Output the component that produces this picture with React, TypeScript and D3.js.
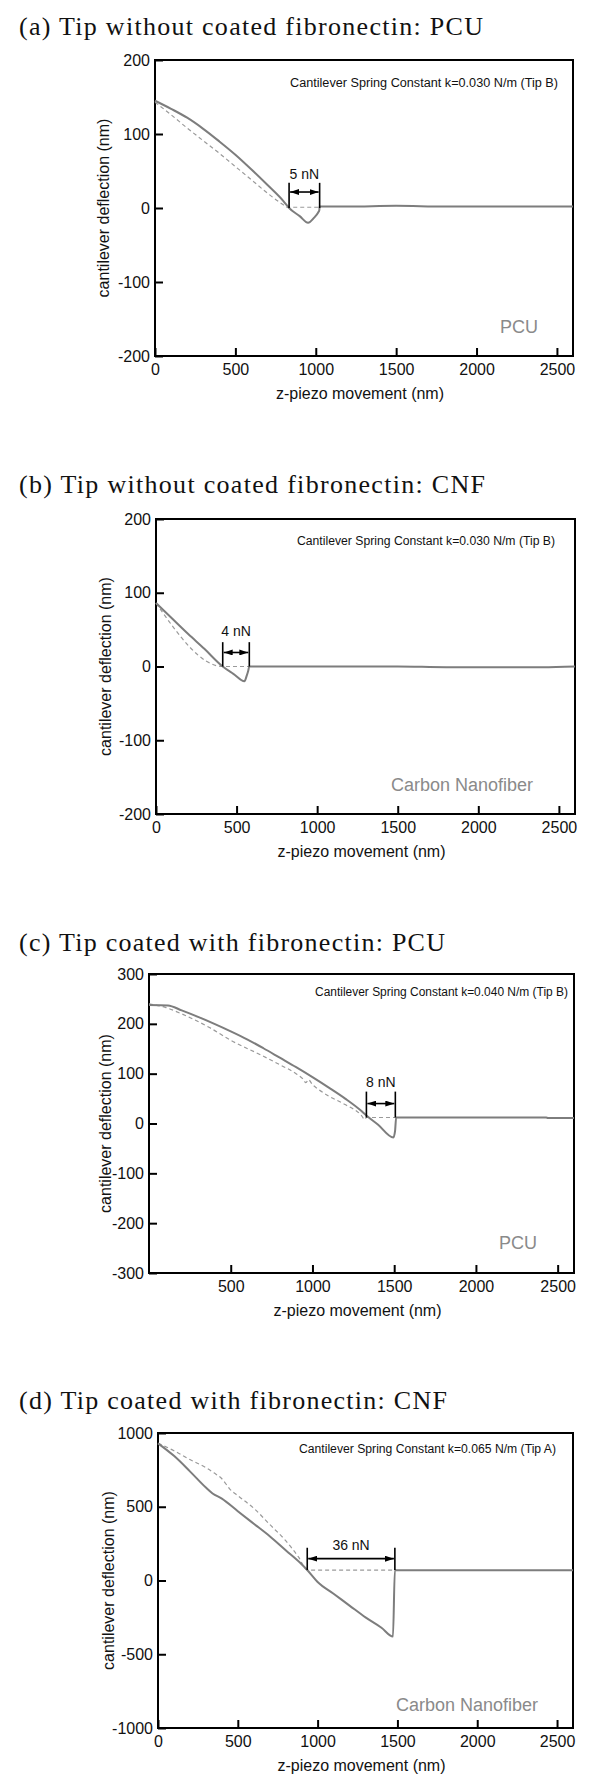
import React, { useRef, useEffect } from 'react'
import * as d3 from 'd3'

// panel texts
const titles = [
  '(a) Tip without coated fibronectin: PCU',
  '(b) Tip without coated fibronectin: CNF',
  '(c) Tip coated with fibronectin: PCU',
  '(d) Tip coated with fibronectin: CNF',
]
const springLabels = [
  'Cantilever Spring Constant k=0.030 N/m (Tip B)',
  'Cantilever Spring Constant k=0.030 N/m (Tip B)',
  'Cantilever Spring Constant k=0.040 N/m (Tip B)',
  'Cantilever Spring Constant k=0.065 N/m (Tip A)',
]
const surfaces = ['PCU', 'Carbon Nanofiber', 'PCU', 'Carbon Nanofiber']
const forces = ['5 nN', '4 nN', '8 nN', '36 nN']

// axes
const xDomain = [0, 2600]
const yDomains = [[-200, 200], [-200, 200], [-300, 300], [-1000, 1000]]
const xTicks = [
  [0, 500, 1000, 1500, 2000, 2500],
  [0, 500, 1000, 1500, 2000, 2500],
  [500, 1000, 1500, 2000, 2500],
  [0, 500, 1000, 1500, 2000, 2500],
]
const yTicks = [
  [-200, -100, 0, 100, 200],
  [-200, -100, 0, 100, 200],
  [-300, -200, -100, 0, 100, 200, 300],
  [-1000, -500, 0, 500, 1000],
]

// curves [z-piezo (nm), deflection (nm)]
const solidA = [[0, 145], [100, 134], [200, 122], [300, 107], [400, 90], [500, 72], [600, 52], [700, 31], [800, 9], [834, 0], [900, -11], [952, -20], [990, -13], [1015, -6], [1022, -3], [1024, 2], [1200, 2], [1500, 3], [1800, 2], [2100, 2], [2400, 2], [2600, 2]]
const dashedA = [[0, 143], [100, 126], [200, 108], [300, 91], [400, 74], [500, 56], [600, 38], [700, 20], [800, 4], [822, 1], [1024, 1]]

const solidB = [[0, 86], [100, 65], [200, 44], [300, 24], [414, 0], [480, -10], [549, -20], [562, -13], [572, -6], [579, 0], [800, 0], [1200, 0], [1500, 0], [1800, -1], [2100, -1], [2400, -1], [2600, 0]]
const dashedB = [[0, 86], [414, 0], [579, 0]]

const solidC = [[0, 238], [116, 237], [200, 227], [300, 214], [400, 200], [500, 185], [600, 169], [700, 151], [800, 132], [900, 113], [1000, 93], [1100, 72], [1200, 50], [1300, 25], [1330, 16], [1400, -2], [1495, -28], [1505, -16], [1512, 12], [1800, 12], [2100, 12], [2430, 12], [2440, 11], [2600, 11]]
const dashedC = [[0, 240], [100, 233], [200, 220], [373, 192], [500, 167], [700, 135], [800, 118], [900, 100], [940, 90], [960, 82], [975, 88], [1000, 78], [1030, 70], [1100, 55], [1200, 38], [1300, 16], [1320, 8], [1330, 12], [1507, 12]]

const solidD = [[0, 930], [100, 845], [200, 740], [300, 630], [342, 590], [400, 555], [500, 470], [600, 385], [700, 300], [800, 205], [900, 110], [935, 71], [1000, -10], [1100, -90], [1200, -170], [1300, -250], [1400, -320], [1472, -380], [1484, 70], [1800, 70], [2200, 70], [2600, 70]]
const dashedD = [[0, 930], [100, 880], [200, 820], [300, 765], [350, 730], [400, 690], [450, 620], [500, 575], [600, 490], [700, 380], [800, 270], [880, 160], [935, 71], [1484, 71]]

const solidSeries = [solidA, solidB, solidC, solidD]
const dashedSeries = [dashedA, dashedB, dashedC, dashedD]

// adhesion brackets (data units)
const bracketX0 = [834, 414, 1330, 935]
const bracketX1 = [1024, 579, 1507, 1484]
const bracketBase = [0, 0, 12, 71]
const bracketTop = [34, 33, 64, 222]
const arrowLevel = [21.6, 19, 40, 148]
const forceLabelLevel = [39, 42, 73, 207]

// page layout of each panel
const layout = [
  { left: 155, right: 573, top: 60, bottom: 356, titleY: 35, titleW: 464, springX: 558, springY: 87, springW: 268, surfX: 538, surfY: 333, yLabelX: 104 },
  { left: 156, right: 575, top: 519, bottom: 814, titleY: 493, titleW: 466, springX: 555, springY: 545, springW: 258, surfX: 533, surfY: 791, yLabelX: 106 },
  { left: 149, right: 574, top: 974, bottom: 1273, titleY: 951, titleW: 426, springX: 568, springY: 996, springW: 253, surfX: 537, surfY: 1249, yLabelX: 106 },
  { left: 158, right: 573, top: 1433, bottom: 1728, titleY: 1409, titleW: 428, springX: 556, springY: 1453, springW: 257, surfX: 538, surfY: 1711, yLabelX: 109 },
]

const sans = 'Liberation Sans, Arial, Helvetica, sans-serif'
const serif = 'Liberation Serif, Times New Roman, serif'

export default function App() {
  const svgRef = useRef(null)
  const width = 600
  const height = 1787

  useEffect(() => {
    const svg = d3.select(svgRef.current)
    svg.selectAll('*').remove()

    const defs = svg.append('defs')
    defs.append('marker')
      .attr('id', 'head')
      .attr('markerUnits', 'userSpaceOnUse')
      .attr('markerWidth', 9)
      .attr('markerHeight', 6)
      .attr('refX', 9)
      .attr('refY', 3)
      .attr('orient', 'auto-start-reverse')
      .append('path')
      .attr('d', 'M0,0 L9,3 L0,6 Z')
      .attr('fill', '#000')

    layout.forEach((L, i) => {
      const g = svg.append('g')
      const x = d3.scaleLinear().domain(xDomain).range([L.left, L.right])
      const y = d3.scaleLinear().domain(yDomains[i]).range([L.bottom, L.top])

      g.append('text')
        .attr('x', 19)
        .attr('y', L.titleY)
        .attr('font-family', serif)
        .attr('font-size', 26)
        .attr('textLength', L.titleW)
        .attr('lengthAdjust', 'spacing')
        .attr('fill', '#111')
        .text(titles[i])

      const xAxis = d3.axisBottom(x)
        .tickValues(xTicks[i])
        .tickSize(-8)
        .tickPadding(8)
        .tickFormat(d => String(d))
      const xAxisG = g.append('g')
        .attr('transform', `translate(0,${L.bottom})`)
        .call(xAxis)
      xAxisG.select('.domain').remove()

      const yAxis = d3.axisLeft(y)
        .tickValues(yTicks[i])
        .tickSize(-8)
        .tickPadding(5)
        .tickFormat(d => String(d))
      const yAxisG = g.append('g')
        .attr('transform', `translate(${L.left},0)`)
        .call(yAxis)
      yAxisG.select('.domain').remove()

      g.selectAll('.tick line').attr('stroke', '#000').attr('stroke-width', 2)
      g.selectAll('.tick text')
        .attr('font-family', sans)
        .attr('font-size', 16)
        .attr('fill', '#111')

      g.append('rect')
        .attr('x', L.left)
        .attr('y', L.top)
        .attr('width', L.right - L.left)
        .attr('height', L.bottom - L.top)
        .attr('fill', 'none')
        .attr('stroke', '#000')
        .attr('stroke-width', 2)

      g.append('text')
        .attr('x', (L.left + L.right) / 2 - 4)
        .attr('y', L.bottom + 43)
        .attr('text-anchor', 'middle')
        .attr('font-family', sans)
        .attr('font-size', 16)
        .attr('fill', '#111')
        .text('z-piezo movement (nm)')

      g.append('text')
        .attr('transform', `translate(${L.yLabelX + 5},${(L.top + L.bottom) / 2}) rotate(-90)`)
        .attr('text-anchor', 'middle')
        .attr('font-family', sans)
        .attr('font-size', 16)
        .attr('fill', '#111')
        .text('cantilever deflection (nm)')

      g.append('text')
        .attr('x', L.springX)
        .attr('y', L.springY)
        .attr('text-anchor', 'end')
        .attr('font-family', sans)
        .attr('font-size', 12)
        .attr('textLength', L.springW)
        .attr('lengthAdjust', 'spacingAndGlyphs')
        .attr('fill', '#111')
        .text(springLabels[i])

      g.append('text')
        .attr('x', L.surfX)
        .attr('y', L.surfY)
        .attr('text-anchor', 'end')
        .attr('font-family', sans)
        .attr('font-size', 18)
        .attr('fill', '#8a8a8a')
        .text(surfaces[i])

      const lineGenerator = d3.line()
        .x(d => x(d[0]))
        .y(d => y(d[1]))
        .curve(d3.curveMonotoneX)

      g.append('path')
        .attr('d', lineGenerator(dashedSeries[i]))
        .attr('fill', 'none')
        .attr('stroke', '#9a9a9a')
        .attr('stroke-width', 1.2)
        .attr('stroke-dasharray', '4,3')

      g.append('path')
        .attr('d', lineGenerator(solidSeries[i]))
        .attr('fill', 'none')
        .attr('stroke', '#7d7d7d')
        .attr('stroke-width', 2)
        .attr('stroke-linejoin', 'round')

      // adhesion force bracket
      const bx0 = x(bracketX0[i])
      const bx1 = x(bracketX1[i])
      ;[bx0, bx1].forEach(bx => {
        g.append('line')
          .attr('x1', bx).attr('x2', bx)
          .attr('y1', y(bracketBase[i])).attr('y2', y(bracketTop[i]))
          .attr('stroke', '#000')
          .attr('stroke-width', 1.6)
      })
      g.append('line')
        .attr('x1', bx0 + 1).attr('x2', bx1 - 1)
        .attr('y1', y(arrowLevel[i])).attr('y2', y(arrowLevel[i]))
        .attr('stroke', '#000')
        .attr('stroke-width', 1.6)
        .attr('marker-start', 'url(#head)')
        .attr('marker-end', 'url(#head)')
      g.append('text')
        .attr('x', (bx0 + bx1) / 2)
        .attr('y', y(forceLabelLevel[i]))
        .attr('text-anchor', 'middle')
        .attr('font-family', sans)
        .attr('font-size', 14)
        .attr('fill', '#111')
        .text(forces[i])
    })
  }, [])

  return (
    <div style={{ position: 'absolute', left: 0, top: 0 }}>
      <svg ref={svgRef} width={width} height={height} style={{ display: 'block', background: '#fff' }}></svg>
    </div>
  )
}
